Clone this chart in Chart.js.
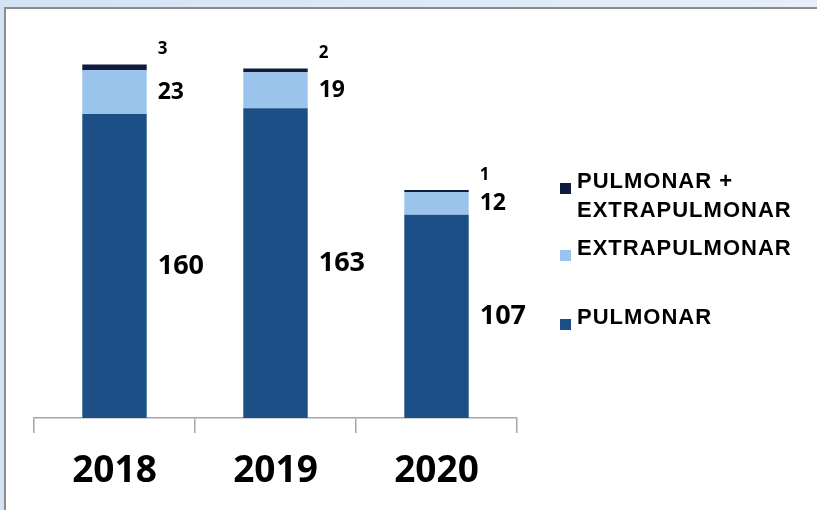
<!DOCTYPE html>
<html>
<head>
<meta charset="utf-8">
<script src="https://cdn.jsdelivr.net/npm/chart.js@4.4.1/dist/chart.umd.min.js"></script>
<style>
  html, body { margin: 0; padding: 0; }
  body {
    width: 817px; height: 510px; overflow: hidden;
    background: linear-gradient(to right, #d3e3f4, #e6eff9);
  }
  #frame {
    position: absolute; left: 4px; top: 7px;
    width: 813px; height: 503px;
    border-left: 2px solid #8c8c8c; border-top: 2px solid #8c8c8c;
    background: #fff;
  }
  canvas { display: block; }
</style>
</head>
<body>
<div id="frame"><canvas id="casosChart" width="811" height="501"></canvas></div>
<script>
var anos = ["2018", "2019", "2020"];
var pulmonar = [160, 163, 107];
var extrapulmonar = [23, 19, 12];
var ambos = [3, 2, 1];

var ctx = document.getElementById("casosChart").getContext("2d");

// etiquetas de valor a la derecha de cada segmento
var etiquetasPlugin = {
  id: 'etiquetas',
  afterDatasetsDraw: function(chart) {
    var c = chart.ctx;
    var tamanos = [27, 23, 17];
    c.save();
    c.fillStyle = '#000';
    c.textAlign = 'left';
    c.textBaseline = 'middle';
    chart.data.datasets.forEach(function(ds, i) {
      var meta = chart.getDatasetMeta(i);
      c.font = 'bold ' + tamanos[i] + 'px "Open Sans"';
      meta.data.forEach(function(bar, j) {
        var x = bar.x + bar.width / 2 + 11;
        var y = i < 2 ? (bar.y + bar.base) / 2 : bar.y - 15;
        c.fillText(ds.data[j], x, y);
      });
    });
    c.restore();
  }
};

// leyenda a la derecha, en orden inverso a las series
var leyendaPlugin = {
  id: 'leyenda',
  afterDraw: function(chart) {
    var c = chart.ctx;
    var filas = [
      { ds: 2, lineas: ["PULMONAR +", "EXTRAPULMONAR"], y: 171 },
      { ds: 1, lineas: ["EXTRAPULMONAR"], y: 238 },
      { ds: 0, lineas: ["PULMONAR"], y: 307 }
    ];
    c.save();
    c.font = 'bold 22px "Liberation Sans", Arial, sans-serif';
    c.letterSpacing = '1px';
    c.textAlign = 'left';
    c.textBaseline = 'middle';
    filas.forEach(function(f) {
      c.fillStyle = chart.data.datasets[f.ds].backgroundColor;
      c.fillRect(554, f.y + 3, 11, 11);
      c.fillStyle = '#000';
      f.lineas.forEach(function(t, k) {
        c.fillText(t, 571, f.y + 2 + k * 29);
      });
    });
    c.restore();
  }
};

var dataCasos = {
  labels: anos,
  datasets: [
    {
      label: "PULMONAR",
      data: pulmonar,
      backgroundColor: "#1b4f85",
      borderWidth: 0,
      barPercentage: 0.8,
      categoryPercentage: 0.5
    },
    {
      label: "EXTRAPULMONAR",
      data: extrapulmonar,
      backgroundColor: "#9bc4ec",
      borderWidth: 0,
      barPercentage: 0.8,
      categoryPercentage: 0.5
    },
    {
      label: "PULMONAR + EXTRAPULMONAR",
      data: ambos,
      backgroundColor: "#0e1d3f",
      borderWidth: 0,
      barPercentage: 0.8,
      categoryPercentage: 0.5
    }
  ]
};

new Chart(ctx, {
  type: 'bar',
  data: dataCasos,
  options: {
    responsive: false,
    animation: false,
    devicePixelRatio: 1,
    layout: { padding: { left: 28, right: 300, top: 10, bottom: 0 } },
    plugins: {
      legend: { display: false },
      tooltip: { enabled: false }
    },
    scales: {
      x: {
        stacked: true,
        grid: {
          offset: true,
          drawOnChartArea: false,
          tickLength: 15,
          color: '#a6a6a6',
          lineWidth: 1.5
        },
        border: { color: '#a6a6a6', width: 1.5 },
        ticks: {
          color: '#000',
          padding: 20,
          font: { family: 'Open Sans', weight: 'bold', size: 37, lineHeight: 1.0 }
        }
      },
      y: {
        stacked: true,
        display: false,
        min: 0,
        max: 210
      }
    }
  },
  plugins: [etiquetasPlugin, leyendaPlugin]
});
</script>
</body>
</html>
